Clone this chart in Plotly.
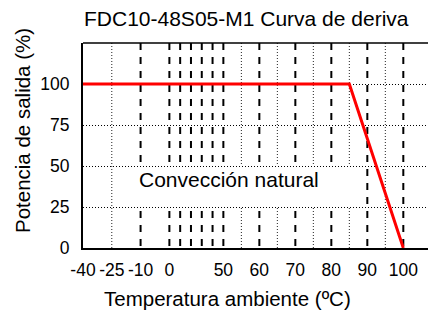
import numpy as np
import plotly.graph_objects as go

# Non-uniform temperature scale of the original chart (temperature -> axis position)
axis_temps = [-40, -25, -10, 0, 10, 20, 30, 40, 50, 55, 60, 65, 70, 75, 80, 85, 90, 95, 100]
axis_pos = [0, 8, 16, 24, 27, 30, 33, 36, 39, 44, 49, 54, 59, 64, 69, 74, 79, 84, 89]

# Derating curve
curve_temp = [-40, 85, 100]
curve_power = [100, 100, 0]

# Ticks / grid
x_tick_temps = [-40, -25, -10, 0, 50, 60, 70, 80, 90, 100]
x_tick_labels = ["-40", "-25", "-10", "0", "50", "60", "70", "80", "90", "100"]
y_ticks = [0, 25, 50, 75, 100]
dashed_temps = [-10, 0, 10, 20, 30, 40, 50, 60, 70, 80, 90, 100]
dotted_temps = [-25, 55, 65, 75, 85, 95]

title_text = "FDC10-48S05-M1 Curva de deriva"
x_title = "Temperatura ambiente (ºC)"
y_title = "Potencia de salida (%)"
region_label = "Convección natural"


def to_pos(t):
    return np.interp(t, axis_temps, axis_pos)


FONT = "Liberation Sans, Arial, sans-serif"
Y_MAX = 125
X_MAX = 95.86

fig = go.Figure(
    go.Scatter(
        x=to_pos(curve_temp),
        y=curve_power,
        mode="lines",
        line=dict(color="#ff0000", width=3),
        hoverinfo="skip",
    )
)

shapes = []
for t in dashed_temps:
    p = float(to_pos(t))
    shapes.append(dict(type="line", xref="x", yref="y", x0=p, x1=p, y0=Y_MAX, y1=0,
                       line=dict(color="black", width=2, dash="7px,7px"), layer="below"))
for t in dotted_temps:
    p = float(to_pos(t))
    shapes.append(dict(type="line", xref="x", yref="y", x0=p, x1=p, y0=Y_MAX, y1=0,
                       line=dict(color="#222", width=1, dash="1px,2px"), layer="below"))
# white label box interrupting the vertical grid
shapes.append(dict(type="rect", xref="x", yref="y", x0=9, x1=76.5, y0=25, y1=50,
                   fillcolor="white", line=dict(width=0), layer="below"))
# top frame line
shapes.append(dict(type="line", xref="paper", yref="paper", x0=0, x1=1, y0=1, y1=1,
                   line=dict(color="black", width=1.5)))

annotations = [
    dict(text=title_text, xref="paper", yref="paper", x=0.4745, y=1.118,
         xanchor="center", yanchor="middle", showarrow=False,
         font=dict(family=FONT, size=21, color="black")),
    dict(text=x_title, xref="paper", yref="paper", x=0.4197, y=-0.246,
         xanchor="center", yanchor="middle", showarrow=False,
         font=dict(family=FONT, size=20.5, color="black")),
    dict(text=y_title, xref="paper", yref="paper", x=-0.1768, y=0.5707,
         xanchor="center", yanchor="middle", showarrow=False, textangle=-90,
         font=dict(family=FONT, size=20.5, color="black")),
    dict(text=region_label, xref="x", yref="y", x=40.5, y=41.5,
         xanchor="center", yanchor="middle", showarrow=False,
         font=dict(family=FONT, size=21, color="black")),
]

fig.update_layout(
    width=428, height=313,
    margin=dict(l=83, r=0, t=43, b=65, pad=0, autoexpand=False),
    paper_bgcolor="white", plot_bgcolor="white",
    showlegend=False,
    shapes=shapes,
    annotations=annotations,
    font=dict(family=FONT, color="black"),
    xaxis=dict(range=[0, X_MAX], tickmode="array", tickvals=to_pos(x_tick_temps),
               ticktext=x_tick_labels, showgrid=False, zeroline=False,
               showline=True, linecolor="black", linewidth=2, ticks="",
               ticklabelstandoff=5, tickfont=dict(family=FONT, size=17.5, color="black"),
               fixedrange=True, automargin=False),
    yaxis=dict(range=[0, Y_MAX], tickmode="array", tickvals=y_ticks,
               showgrid=True, griddash="1px,2px", gridcolor="black", gridwidth=1,
               zeroline=False, showline=True, linecolor="black", linewidth=2,
               ticks="", ticklabelstandoff=8,
               tickfont=dict(family=FONT, size=17.5, color="black"), fixedrange=True,
               automargin=False),
)

fig.write_html(
    "out.html",
    config={"displayModeBar": False, "staticPlot": True},
    post_script="document.body.style.margin='0';document.body.style.padding='0';",
)
